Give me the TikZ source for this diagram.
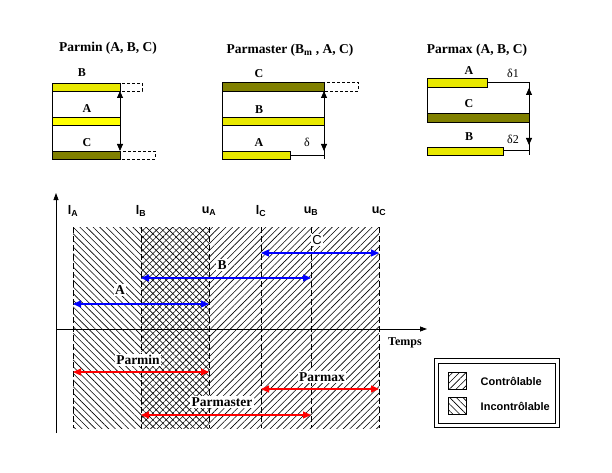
\documentclass[tikz,border=0pt]{standalone}
\usepackage{fontspec}
\setmainfont{Liberation Serif}
\setsansfont{Liberation Sans}
\usepackage{tikz}
\usetikzlibrary{arrows.meta,calc,patterns.meta}
\definecolor{parYellow}{HTML}{E8E800}
\definecolor{parBright}{HTML}{FFFF00}
\definecolor{parOlive}{HTML}{808000}
\definecolor{parBlue}{HTML}{0000FF}
\definecolor{parRed}{HTML}{FF0000}

\begin{document}
\begin{tikzpicture}[x=1pt,y=-1pt,line width=0.8pt,
  font=\bfseries\fontsize{12}{14}\selectfont,
  title/.style={font=\bfseries\fontsize{13.5}{15}\selectfont},
  bar/.style={draw=black,line width=0.6pt},
  ext/.style={draw,dash pattern=on 3pt off 2pt,line width=0.6pt},
  gap/.style={{Triangle[length=7pt,width=6pt]}-{Triangle[length=7pt,width=6pt]}},
  bound/.style={dash pattern=on 6pt off 3pt,line width=0.7pt},
  interval/.style={{Triangle[length=8pt,width=7pt]}-{Triangle[length=8pt,width=7pt]},line width=1.1pt},
  tag/.style={fill=white,inner sep=1.5pt,font=\bfseries\fontsize{13.5}{15}\selectfont},
  bound label/.style={font=\sffamily\bfseries\fontsize{12.5}{14}\selectfont},
  ctrl/.style={pattern={Lines[angle=45,distance=4.7pt,line width=0.6pt]}},
  unctrl/.style={pattern={Lines[angle=-45,distance=4.7pt,line width=0.6pt]}}
]
\useasboundingbox (0,0) rectangle (612,473);

% Parmin
\node[title] (tmin) at (108,48) {Parmin (A, B, C)};
\draw[bar,fill=parYellow] (52,83) rectangle (120,91);
\draw[ext] (120,83) rectangle (142,91);
\draw[bar,fill=parBright] (52,117) rectangle (120,125);
\draw[bar,fill=parOlive] (52,151) rectangle (120,159);
\draw[ext] (120,151) rectangle (155,159);
\draw (52,91) -- (52,151);
\draw[gap] (120,91) -- (120,151);
\node (minB) at (82,73) {B};
\node (minA) at (87,109) {A};
\node (minC) at (87,143) {C};

% Parmaster
\node[title] (tmaster) at (290,50) {Parmaster (B\textsubscript{m} , A, C)};
\draw[bar,fill=parOlive] (222,82) rectangle (324,91);
\draw[ext] (324,82) rectangle (358,91);
\draw[bar,fill=parYellow] (222,117) rectangle (324,125);
\draw[bar,fill=parYellow] (222,151) rectangle (290,159);
\draw (222,91) -- (222,151);
\draw (290,155) -- (324,155);
\draw (324,91) -- (324,159);
\draw[gap] (324,91) -- (324,151);
\node (masC) at (259,74) {C};
\node (masB) at (259,110) {B};
\node (masA) at (259,143) {A};
\node[font=\normalfont\fontsize{12}{14}\selectfont] (masd) at (307,142) {δ};

% Parmax
\node[title] (tmax) at (477,50) {Parmax (A, B, C)};
\draw[bar,fill=parYellow] (427,78) rectangle (487,87);
\draw (487,82) -- (529,82);
\draw (427,87) -- (427,113);
\draw[bar,fill=parOlive] (427,113) rectangle (529,122);
\draw[bar,fill=parYellow] (427,147) rectangle (503,155);
\draw (503,150) -- (529,150);
\draw (529,82) -- (529,155);
\draw[gap] (529,88) -- (529,145);
\node (maxA) at (469,71) {A};
\node[font=\normalfont\fontsize{12}{14}\selectfont] (maxd1) at (513,73) {δ1};
\node (maxC) at (469,104) {C};
\node (maxB) at (469,137) {B};
\node[font=\normalfont\fontsize{12}{14}\selectfont] (maxd2) at (513,139) {δ2};

% Bounds on the time line
\foreach \n/\x in {lA/73,lB/141,uA/209,lC/261,uB/311,uC/379}
  \coordinate (\n) at (\x,227);
\fill[unctrl] (lA) rectangle ($(uA)+(0,201)$);
\fill[ctrl] (lB) rectangle ($(uC)+(0,201)$);
\foreach \n in {lA,lB,uA,lC,uB,uC}
  \draw[bound] (\n) -- ++(0,201);
\foreach \n/\t/\s in {lA/l/A,lB/l/B,uA/u/A,lC/l/C,uB/u/B,uC/u/C}
  \node[bound label] (t\n) at ($(\n)+(0,-16)$) {\t\textsubscript{\s}};

% Axes
\coordinate (o) at (56,329);
\coordinate (ytop) at (56,193);
\coordinate (ybot) at (56,433);
\coordinate (xend) at (427,329);
\draw[-{Triangle[length=7pt,width=5pt]}] (ybot) -- (ytop);
\draw[-{Triangle[length=7pt,width=5pt]}] (o) -- (xend);
\node (temps) at (405,343) {Temps};

% Intervals
\draw[interval,parBlue] ($(lC)+(0,26)$) -- ($(uC)+(0,26)$);
\draw[interval,parBlue] ($(lB)+(0,51)$) -- ($(uB)+(0,51)$);
\draw[interval,parBlue] ($(lA)+(0,77)$) -- ($(uA)+(0,77)$);
\node[tag,font=\sffamily\fontsize{13}{15}\selectfont] (labC) at (317,240) {C};
\node[tag] (labB) at (222,265) {B};
\node[tag] (labA) at (120,290) {A};

\draw[interval,parRed] ($(lA)+(0,145)$) -- ($(uA)+(0,145)$);
\draw[interval,parRed] ($(lC)+(0,162)$) -- ($(uC)+(0,162)$);
\draw[interval,parRed] ($(lB)+(0,188)$) -- ($(uB)+(0,188)$);
\node[tag] (labmin) at (138,360) {Parmin};
\node[tag] (labmax) at (322,377) {Parmax};
\node[tag] (labmas) at (222,402) {Parmaster};

% Legend
\draw (434,358) rectangle (559,427);
\draw (438,363) rectangle (555,423);
\draw[ctrl,line width=0.6pt] (448,372) rectangle (466,389);
\draw[unctrl,line width=0.6pt] (448,397) rectangle (466,414);
\node[anchor=west,font=\sffamily\bfseries\fontsize{11}{13}\selectfont] (legc) at (477,381) {Contrôlable};
\node[anchor=west,font=\sffamily\bfseries\fontsize{11}{13}\selectfont] (legu) at (477,406) {Incontrôlable};
\end{tikzpicture}
\end{document}
